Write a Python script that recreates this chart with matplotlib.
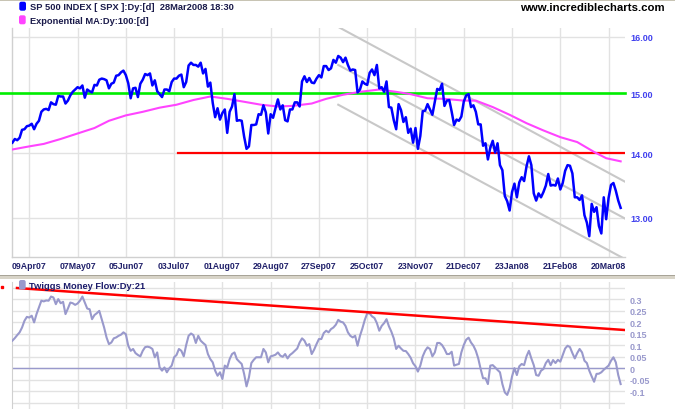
import matplotlib
matplotlib.use('Agg')
import matplotlib.pyplot as plt
from matplotlib.patches import FancyBboxPatch, Rectangle
from matplotlib.transforms import IdentityTransform
from matplotlib.ticker import NullLocator
import numpy as np

# ---------------- data ----------------
tick_labels = ['09Apr07', '07May07', '05Jun07', '03Jul07', '01Aug07', '29Aug07', '27Sep07',
               '25Oct07', '23Nov07', '21Dec07', '23Jan08', '21Feb08', '20Mar08']
tick_pos = [7, 27, 47, 67, 87, 107, 127, 147, 167, 187, 207, 227, 247]

# S&P 500 daily close /100, trading days 28 Mar 2007 .. 28 Mar 2008
prices = [
    14.17, 14.23, 14.21,
    14.25, 14.38, 14.39, 14.44,
    14.45, 14.48, 14.39, 14.48, 14.53,
    14.68, 14.72, 14.73, 14.71, 14.84,
    14.81, 14.80, 14.95, 14.94, 14.94,
    14.82,
    14.87, 14.96, 15.02, 15.06,
    15.10, 15.08, 15.13, 14.92, 15.06,
    15.03, 15.01, 15.14, 15.13, 15.23,
    15.25, 15.24, 15.22, 15.08, 15.16,
    15.18, 15.30, 15.31,
    15.36,
    15.39, 15.31, 15.17, 14.91, 15.08,
    15.09, 14.93, 15.16, 15.23, 15.33,
    15.31, 15.34, 15.13, 15.22, 15.03,
    14.98, 14.93, 15.06, 15.06, 15.03,
    15.19, 15.25, 15.25, 15.30,
    15.32, 15.10, 15.19, 15.48, 15.53,
    15.49, 15.49, 15.46, 15.53, 15.34,
    15.42, 15.11, 15.18, 14.83, 14.59,
    14.74, 14.55,
    14.66, 14.72, 14.33,
    14.68, 14.77, 14.98, 14.53, 14.54,
    14.53, 14.27, 14.07, 14.11, 14.46,
    14.46, 14.47, 14.64, 14.63, 14.79,
    14.67, 14.32, 14.64, 14.58, 14.74,
    14.89, 14.72, 14.79, 14.54,
    14.52, 14.72, 14.72, 14.84, 14.84,
    14.77, 15.20, 15.29, 15.19, 15.26,
    15.18, 15.17, 15.25, 15.31, 15.27,
    15.47, 15.47, 15.40, 15.43, 15.58,
    15.53, 15.65, 15.62, 15.54, 15.62,
    15.49, 15.39, 15.41, 15.40, 15.01,
    15.06, 15.20, 15.16, 15.14, 15.35,
    15.41, 15.31, 15.49,
    15.08, 15.10,
    15.02, 15.20, 14.76, 14.75, 14.54,
    14.39, 14.81, 14.71, 14.51, 14.59,
    14.33, 14.40, 14.17, 14.41,
    14.07, 14.28, 14.69, 14.70, 14.81,
    14.72, 14.63, 14.85, 15.07, 15.05,
    15.16, 14.78, 14.87, 14.88, 14.68,
    14.46, 14.55, 14.53, 14.60, 14.85,
    14.96, 14.98, 14.76, 14.79,
    14.68,
    14.47, 14.47, 14.12,
    14.16, 13.90, 14.09, 14.20, 14.01,
    14.16, 13.81, 13.73, 13.33, 13.25,
    13.11, 13.39, 13.52, 13.31,
    13.54, 13.62, 13.56, 13.79,
    13.95,
    13.81, 13.37, 13.26, 13.37, 13.31,
    13.39, 13.49, 13.67, 13.49, 13.50,
    13.49, 13.60, 13.43, 13.53,
    13.72, 13.81, 13.80, 13.68, 13.31,
    13.31, 13.27, 13.34, 13.04, 12.93,
    12.73, 13.21, 13.09, 13.16, 12.88,
    12.77, 13.31, 12.98, 13.30,
    13.50, 13.53, 13.41, 13.26, 13.15,
]

# Exponential MA (100) at sample days
ema_day = [0, 7, 13, 20, 27, 34, 40, 47, 54, 61, 68, 75, 82, 89, 96, 103, 110, 116,
           124, 130, 137, 144, 152, 159, 165, 172, 179, 187, 192, 199, 206, 213, 220,
           227, 234, 241, 246, 252]
ema_val = [14.06, 14.11, 14.15, 14.23, 14.32, 14.41, 14.53, 14.62, 14.68, 14.75, 14.80,
           14.88, 14.94, 14.90, 14.85, 14.80, 14.77, 14.78, 14.82, 14.90, 14.97, 15.02,
           15.06, 15.02, 14.98, 14.91, 14.90, 14.87, 14.87, 14.76, 14.63, 14.49, 14.37,
           14.26, 14.18, 14.02, 13.92, 13.87]

# Twiggs Money Flow (21)
tmf = [
    0.120, 0.131, 0.144, 0.156, 0.177, 0.206, 0.223, 0.220, 0.228, 0.199,
    0.235, 0.264, 0.293, 0.290, 0.294, 0.293, 0.311, 0.307, 0.278, 0.300,
    0.282, 0.288, 0.235, 0.259, 0.285, 0.282, 0.275, 0.281, 0.293, 0.311,
    0.285, 0.259, 0.256, 0.213, 0.231, 0.239, 0.249, 0.213, 0.177, 0.134,
    0.105, 0.112, 0.130, 0.134, 0.141, 0.146, 0.156, 0.148, 0.098, 0.076,
    0.084, 0.066, 0.058, 0.052, 0.076, 0.092, 0.094, 0.091, 0.084, 0.048,
    0.069, 0.004, -0.010, 0.004, -0.017, 0.000, 0.012, 0.048, 0.058, 0.084,
    0.076, 0.052, 0.101, 0.141, 0.151, 0.144, 0.110, 0.141, 0.120, 0.110,
    0.101, 0.062, 0.040, 0.026, -0.010, -0.032, -0.017, -0.046, 0.012, 0.004,
    0.040, 0.062, 0.069, 0.040, 0.029, 0.019, -0.024, -0.078, -0.039, 0.023,
    0.037, 0.048, 0.048, 0.048, 0.084, 0.069, 0.026, 0.052, 0.055, 0.059,
    0.069, 0.055, 0.050, 0.062, 0.043, 0.058, 0.066, 0.076, 0.086, 0.112,
    0.130, 0.120, 0.098, 0.105, 0.062, 0.081, 0.105, 0.127, 0.127, 0.153,
    0.163, 0.156, 0.170, 0.177, 0.189, 0.210, 0.202, 0.199, 0.184, 0.156,
    0.141, 0.134, 0.141, 0.098, 0.141, 0.173, 0.210, 0.238, 0.238, 0.225,
    0.218, 0.196, 0.163, 0.184, 0.196, 0.213, 0.182, 0.159, 0.130, 0.084,
    0.098, 0.086, 0.076, 0.075, 0.062, 0.046, 0.022, 0.009, -0.014, 0.012,
    0.052, 0.076, 0.091, 0.084, 0.052, 0.069, 0.110, 0.110, 0.101, 0.084,
    0.062, 0.062, 0.072, 0.012, 0.016, 0.019, 0.069, 0.101, 0.124, 0.133,
    0.112, 0.098, 0.076, 0.043, -0.003, -0.043, -0.043, -0.068, 0.012, 0.014,
    0.004, -0.007, -0.017, -0.068, -0.104, -0.115, -0.086, -0.035, 0.001, -0.029,
    0.009, 0.019, 0.014, 0.052, 0.076, 0.043, 0.014, -0.029, -0.032, -0.010,
    -0.003, 0.023, 0.037, 0.014, 0.036, 0.023, 0.037, 0.029, 0.058, 0.086,
    0.098, 0.092, 0.066, 0.043, 0.066, 0.084, 0.069, 0.033, 0.023, -0.010,
    -0.035, -0.058, -0.024, -0.023, -0.017, -0.006, 0.003, 0.012, 0.033, 0.048,
    0.026, -0.029, -0.068,
]

# trend lines (day, value)
support_level = 15.0
resistance_level = 14.0
resistance_start = 68.5
channel_days = [135, 253.8]
channel_upper = [16.18, 13.55]
channel_mid = [15.49, 12.99]
channel_low = [14.80, 12.40]
tmf_trend_days = [1.9, 253.8]
tmf_trend_vals = [0.348, 0.166]

price_ticks = [13, 14, 15, 16]
tmf_ticks = [-0.15, -0.1, -0.05, 0, 0.05, 0.1, 0.15, 0.2, 0.25, 0.3, 0.35]

# ---------------- layout ----------------
W, H = 675, 410
plt.rcParams['font.family'] = ['Liberation Sans', 'DejaVu Sans']
fig = plt.figure(figsize=(W / 100, H / 100), dpi=100)
fig.patch.set_facecolor('white')


def fx(x):
    return x / W


def fy(y):
    return 1 - y / H


XL, XR = -0.37, 253.8
GRID = '#e2e2e2'

ax = fig.add_axes([fx(11.5), fy(258), (625 - 11.5) / W, (258 - 29) / H])
ax2 = fig.add_axes([fx(11.5), fy(410), (625 - 11.5) / W, (410 - 283) / H])

# ---- price panel ----
days = np.arange(len(prices))
ax.set_yscale('log')
ax.set_xlim(XL, XR)
ax.set_ylim(12.43, 16.16)
ax.plot(channel_days, channel_upper, color='#c8c8c8', lw=1.5, zorder=2)
ax.plot(channel_days, channel_mid, color='#c8c8c8', lw=1.5, zorder=2)
ax.plot(channel_days, channel_low, color='#c8c8c8', lw=1.5, zorder=2)
ax.plot([-5.2, XR], [support_level] * 2, color='#00ee00', lw=1.9, zorder=3, clip_on=False)
ax.plot([resistance_start, XR], [resistance_level] * 2, color='#ff0000', lw=1.6, zorder=3)
ax.plot(ema_day, ema_val, color='#ff44ff', lw=1.5, zorder=4)
ax.plot(days, prices, color='#0000ff', lw=1.8, zorder=5)

ax.set_yticks(price_ticks)
ax.set_yticklabels(['%.2f' % v for v in price_ticks])
ax.yaxis.set_minor_locator(NullLocator())
ax.yaxis.tick_right()
ax.tick_params(axis='y', length=0, pad=3.6, labelsize=6.5, labelcolor='#4040ee')
ax.set_xticks(tick_pos)
ax.set_xticklabels(tick_labels)
ax.tick_params(axis='x', length=0, pad=3.2, labelsize=6.3, labelcolor='#20206a')
for lbl in ax.get_xticklabels() + ax.get_yticklabels():
    lbl.set_fontweight('bold')
ax.grid(True, color=GRID, lw=1.0)
ax.set_axisbelow(True)
for s in ['top', 'right']:
    ax.spines[s].set_visible(False)
for s in ['left', 'bottom']:
    ax.spines[s].set_color('#d0d0d0')
    ax.spines[s].set_linewidth(1.0)

# ---- money flow panel ----
ax2.set_xlim(XL, XR)
ax2.set_ylim(-0.176, 0.374)
ax2.axhline(0, color='#9999cc', lw=1.0, zorder=2)
ax2.plot(tmf_trend_days, tmf_trend_vals, color='#ff0000', lw=1.8, zorder=4)
slope = (tmf_trend_vals[1] - tmf_trend_vals[0]) / (tmf_trend_days[1] - tmf_trend_days[0])
ax2.plot([-4.3], [tmf_trend_vals[0] + slope * (-4.3 - tmf_trend_days[0])], marker='s',
         ms=1.6, color='#ff0000', clip_on=False, zorder=4)
ax2.plot(days, tmf, color='#9999cc', lw=1.5, zorder=3)
ax2.set_yticks(tmf_ticks)
ax2.set_yticklabels(['' if v in (-0.15, 0.35) else ('%g' % v) for v in tmf_ticks])
ax2.yaxis.tick_right()
ax2.tick_params(axis='y', length=0, pad=3.6, labelsize=6.5, labelcolor='#9999cc')
for lbl in ax2.get_yticklabels():
    lbl.set_fontweight('bold')
ax2.set_xticks(tick_pos)
ax2.set_xticklabels([])
ax2.tick_params(axis='x', length=0)
ax2.grid(True, color=GRID, lw=1.0)
ax2.set_axisbelow(True)
for s in ['top', 'right', 'bottom']:
    ax2.spines[s].set_visible(False)
ax2.spines['left'].set_color('#d0d0d0')

# ---- frame decorations ----
fig.patches.append(Rectangle((0, fy(2)), 1, 2 / H, transform=fig.transFigure,
                             facecolor='#c8c4b4', edgecolor='none'))
fig.patches.append(Rectangle((0, fy(280)), 1, 4 / H, transform=fig.transFigure,
                             facecolor='#d8d4c8', edgecolor='none'))
fig.patches.append(Rectangle((0, fy(277)), 1, 1 / H, transform=fig.transFigure,
                             facecolor='#a8a498', edgecolor='none'))


def legend_box(x0, y0, w, h, color):
    p = FancyBboxPatch((x0, H - y0 - h), w, h, boxstyle='round,pad=0,rounding_size=2',
                       transform=IdentityTransform(), facecolor=color, edgecolor='none')
    fig.patches.append(p)


legend_box(19.3, 2.7, 6.7, 9.0, '#0000ff')
legend_box(19.0, 16.3, 6.7, 9.0, '#ff44ff')
legend_box(19.0, 281.0, 6.7, 9.5, '#9999cc')

fig.text(fx(29.5), fy(7.5), 'SP 500 INDEX [ SPX ]:Dy:[d]  28Mar2008 18:30', fontsize=6.7,
         fontweight='bold', color='#1a1a4a', va='center', ha='left')
fig.text(fx(29.5), fy(21.5), 'Exponential MA:Dy:100:[d]', fontsize=6.7,
         fontweight='bold', color='#1a1a4a', va='center', ha='left')
fig.text(fx(665), fy(8), 'www.incrediblecharts.com', fontsize=8.2,
         fontweight='bold', color='#000000', va='center', ha='right')
fig.text(fx(29.3), fy(286.5), 'Twiggs Money Flow:Dy:21', fontsize=6.7,
         fontweight='bold', color='#1a1a6a', va='center', ha='left')

fig.savefig('out.png', dpi=100, facecolor='white')
